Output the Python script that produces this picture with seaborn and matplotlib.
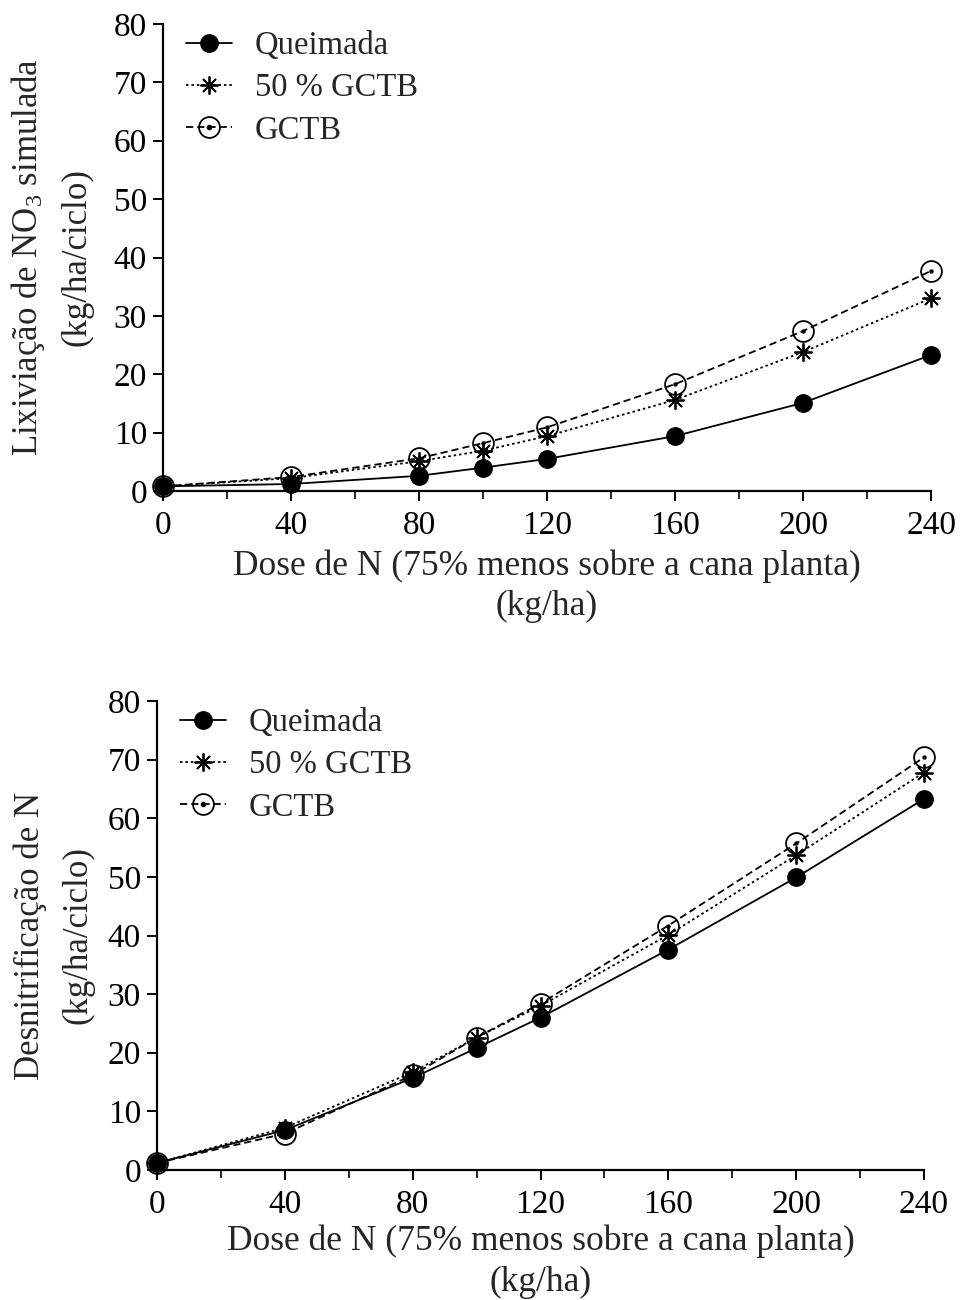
import numpy as np
import pandas as pd
import matplotlib
matplotlib.use("Agg")
import matplotlib.pyplot as plt
import seaborn as sns
from matplotlib.lines import Line2D
from matplotlib.legend_handler import HandlerTuple
from matplotlib.ticker import MultipleLocator

# ---- data ----
dose = [0, 40, 80, 100, 120, 160, 200, 240]
series_names = ["Queimada", "50 % GCTB", "GCTB"]

lix_queimada = [0.8, 1.2, 2.6, 4.0, 5.5, 9.4, 15.1, 23.3]
lix_50gctb = [0.8, 2.2, 5.1, 6.9, 9.4, 15.6, 23.8, 33.0]
lix_gctb = [0.8, 2.4, 5.6, 8.2, 10.9, 18.3, 27.4, 37.7]

den_queimada = [1.2, 6.8, 15.7, 20.8, 26.0, 37.6, 49.9, 63.3]
den_50gctb = [1.2, 7.2, 16.7, 22.6, 28.0, 40.1, 53.7, 67.8]
den_gctb = [1.2, 6.2, 16.2, 22.6, 28.4, 41.7, 55.7, 70.4]

yticks = [0, 10, 20, 30, 40, 50, 60, 70, 80]
xticks = [0, 40, 80, 120, 160, 200, 240]

top_ylabel = "Lixiviação de NO$_\\mathrm{3}$ simulada\n(kg/ha/ciclo)"
bot_ylabel = "Desnitrificação de N\n(kg/ha/ciclo)"
xlabel = "Dose de N (75% menos sobre a cana planta)\n(kg/ha)"

# ---- style ----
sns.set_style("ticks")
plt.rcParams["font.family"] = ["Liberation Serif", "DejaVu Serif"]
plt.rcParams["mathtext.fontset"] = "custom"
plt.rcParams["mathtext.rm"] = "Liberation Serif"
plt.rcParams["mathtext.it"] = "Liberation Serif:italic"
FS_TICK = 24
FS_XLAB = 25.5
FS_YLAB = 25
FS_LEG = 23.5

fig = plt.figure(figsize=(9.6, 13.0), dpi=100)
ax_top = fig.add_axes([163 / 960, 1 - 491 / 1300, 768 / 960, 467 / 1300])
ax_bot = fig.add_axes([157 / 960, 1 - 1170 / 1300, 767 / 960, 469 / 1300])

LW = 1.3
styles = {
    "Queimada": dict(marker="o", linestyle="-", markersize=12.5,
                     markerfacecolor="k", markeredgecolor="k", markeredgewidth=1.0),
    "50 % GCTB": dict(marker=(8, 2, 0), linestyle=(0, (1.4, 1.6)), markersize=13,
                      markerfacecolor="k", markeredgecolor="k", markeredgewidth=1.3),
    "GCTB": dict(marker="o", linestyle=(0, (4.0, 2.2)), markersize=15,
                 markerfacecolor="none", markeredgecolor="k", markeredgewidth=1.3),
}


def draw(ax, values, ylabel, label_x, xlabel_y):
    df = pd.DataFrame({"dose": dose})
    for name, vals in zip(series_names, values):
        df[name] = vals
    order = ["GCTB", "50 % GCTB", "Queimada"]
    for name in order:
        sns.lineplot(data=df, x="dose", y=name, ax=ax, color="k", lw=LW,
                     clip_on=False, zorder=3, **styles[name])
    # central dot of GCTB marker
    sns.scatterplot(data=df, x="dose", y="GCTB", ax=ax, color="k", s=10,
                    marker="o", edgecolor="k", linewidth=0, clip_on=False, zorder=4)

    ax.set_xlim(0, 240)
    ax.set_ylim(0, 80)
    ax.set_xticks(xticks)
    ax.xaxis.set_minor_locator(MultipleLocator(20))
    ax.set_yticks(yticks)
    ax.tick_params(axis="both", which="major", labelsize=FS_TICK, length=7,
                   width=1.4, direction="out", colors="k")
    ax.tick_params(axis="x", which="major", pad=7)
    ax.tick_params(axis="y", which="major", pad=4.5)
    ax.tick_params(axis="x", which="minor", length=6, width=1.4, direction="out")
    for s in ["left", "bottom"]:
        ax.spines[s].set_linewidth(1.6)
        ax.spines[s].set_color("k")
    sns.despine(ax=ax)
    ax.set_ylabel(ylabel, fontsize=FS_YLAB, linespacing=1.55)
    ax.yaxis.set_label_coords(label_x, 0.5)
    ax.set_xlabel(xlabel, fontsize=FS_XLAB, linespacing=1.3)
    ax.xaxis.set_label_coords(0.5, xlabel_y)

    h_q = Line2D([], [], color="k", lw=LW, **styles["Queimada"])
    h_s = Line2D([], [], color="k", lw=LW, **styles["50 % GCTB"])
    h_g = Line2D([], [], color="k", lw=LW, **styles["GCTB"])
    h_d = Line2D([], [], color="k", lw=0, linestyle="none", marker="o", markersize=3)
    ax.legend([h_q, h_s, (h_g, h_d)], series_names, loc="upper left",
              bbox_to_anchor=(0.022, 1.0), frameon=False, fontsize=FS_LEG,
              handlelength=1.4, handletextpad=0.7, labelspacing=0.36,
              borderaxespad=0, borderpad=0.2,
              handler_map={tuple: HandlerTuple(ndivide=1)})


draw(ax_top, [lix_queimada, lix_50gctb, lix_gctb], top_ylabel, -0.09, -0.125)
draw(ax_bot, [den_queimada, den_50gctb, den_gctb], bot_ylabel, -0.082, -0.117)

fig.savefig("out.png", dpi=100)
